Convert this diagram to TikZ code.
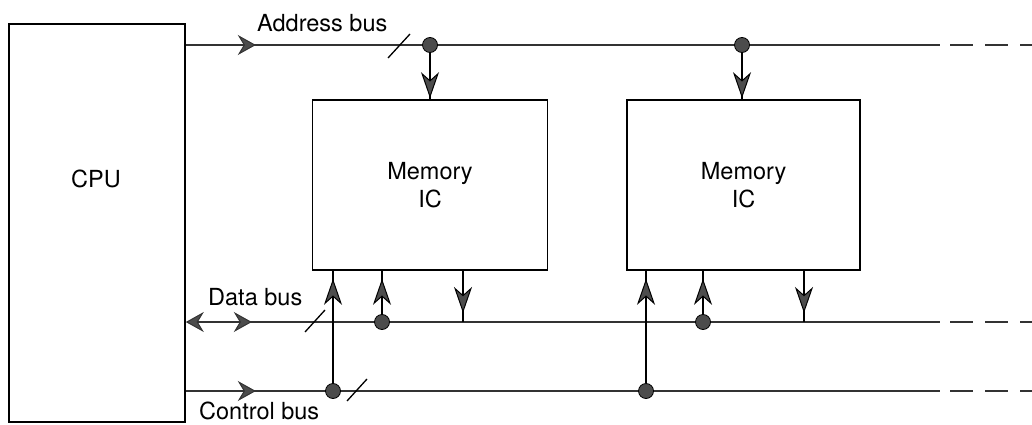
\documentclass[tikz,border=0pt]{standalone}
\usepackage{fontspec}
\setmainfont{TeX Gyre Heros}
\usetikzlibrary{arrows.meta,decorations.markings,positioning}

\begin{document}
\begin{tikzpicture}[
    x=1pt, y=-1pt,
    >={Stealth[length=18pt, width=20pt, inset=6pt, fill=black!70, line width=1pt]},
    vtip/.tip={Stealth[length=26pt, width=18pt, inset=8pt, fill=black!70, line width=1pt]},
    block/.style={rectangle, draw, line width=1.6pt, inner sep=0pt, align=center, font=\fontsize{23.5}{28}\selectfont},
    bus/.style={draw=black!80, line width=2.6pt},
    stub/.style={draw=black, line width=2pt},
    dot/.style={circle, fill=black!70, draw=black, line width=0.8pt, minimum size=15pt, inner sep=0pt},
    lbl/.style={inner sep=0pt, anchor=base west, font=\fontsize{23.5}{28}\selectfont},
    slash/.style={line width=1.3pt},
    hmark/.style={postaction=decorate, decoration={markings, mark=at position #1 with {\arrow{>}}}},
    vmark/.style={postaction=decorate, decoration={markings, mark=at position #1 with {\arrow{vtip}}}}
]
    \useasboundingbox (0,0) rectangle (1032,425);

    % blocks
    \node[block, minimum width=176pt, minimum height=398pt] (cpu) at (97,223) {};
    \node[lbl, anchor=center] (cpulbl) at (96,179) {CPU};
    \node[block, minimum width=235pt, minimum height=170pt] (mem1) at (430,185) {Memory\\IC};
    \node[block, minimum width=233pt, minimum height=170pt, right=78pt of mem1] (mem2) {Memory\\IC};

    % bus ends
    \coordinate (aend) at (940,45);
    \coordinate (adash) at (950,45);
    \coordinate (aout) at (1032,45);
    \coordinate (dend) at (940,322);
    \coordinate (ddash) at (950,322);
    \coordinate (dout) at (1032,322);
    \coordinate (cend) at (940,391);
    \coordinate (cdash) at (950,391);
    \coordinate (cout) at (1032,391);

    % buses
    \draw[bus, hmark=70pt] (cpu.east |- aend) -- (aend);
    \draw[bus, <-, hmark=66pt] (cpu.east |- dend) -- (dend);
    \draw[bus, hmark=70pt] (cpu.east |- cend) -- (cend);
    \draw[bus, dash pattern=on 23pt off 12pt] (adash) -- (aout);
    \draw[bus, dash pattern=on 23pt off 12pt] (ddash) -- (dout);
    \draw[bus, dash pattern=on 23pt off 12pt] (cdash) -- (cout);

    % bus widths
    \draw[slash] (388,58) -- (410,34);
    \draw[slash] (305,332) -- (325,310);
    \draw[slash] (347,401) -- (367,379);

    % taps
    \node[dot] (ad1) at (430,45) {};
    \node[dot] (ad2) at (742,45) {};
    \node[dot] (dd1) at (382,322) {};
    \node[dot] (dd2) at (703,322) {};
    \node[dot] (cd1) at (333,391) {};
    \node[dot] (cd2) at (646,391) {};
    \coordinate (dw1) at (463,322);
    \coordinate (dw2) at (804,322);

    \draw[stub, vmark=-1pt] (ad1) -- (ad1 |- mem1.north);
    \draw[stub, vmark=-1pt] (ad2) -- (ad2 |- mem2.north);
    \draw[stub, vmark=-8pt] (cd1) -- (cd1 |- mem1.south);
    \draw[stub, vmark=-8pt] (dd1) -- (dd1 |- mem1.south);
    \draw[stub, vmark=-9pt] (mem1.south -| dw1) -- (dw1);
    \draw[stub, vmark=-8pt] (cd2) -- (cd2 |- mem2.south);
    \draw[stub, vmark=-8pt] (dd2) -- (dd2 |- mem2.south);
    \draw[stub, vmark=-9pt] (mem2.south -| dw2) -- (dw2);

    % labels
    \node[lbl] (albl) at (257,32) {Address bus};
    \node[lbl] (dlbl) at (208,305) {Data bus};
    \node[lbl] (clbl) at (199,419) {Control bus};
\end{tikzpicture}
\end{document}
